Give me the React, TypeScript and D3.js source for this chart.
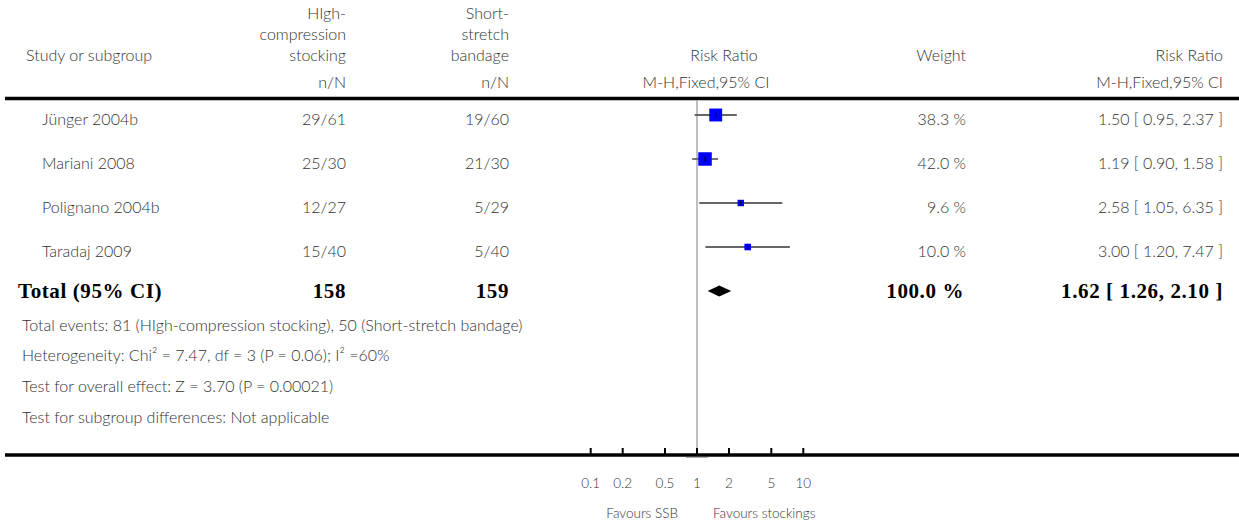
import React from "react";
import * as d3 from "d3";

const studies = ["Jünger 2004b", "Mariani 2008", "Polignano 2004b", "Taradaj 2009"];
const groupA = ["29/61", "25/30", "12/27", "15/40"];
const groupB = ["19/60", "21/30", "5/29", "5/40"];
const rr = [1.5, 1.19, 2.58, 3.0];
const lower = [0.95, 0.9, 1.05, 1.2];
const upper = [2.37, 1.58, 6.35, 7.47];
const weights = [38.3, 42.0, 9.6, 10.0];
const weightLabels = ["38.3 %", "42.0 %", "9.6 %", "10.0 %"];
const rrLabels = ["1.50 [ 0.95, 2.37 ]", "1.19 [ 0.90, 1.58 ]", "2.58 [ 1.05, 6.35 ]", "3.00 [ 1.20, 7.47 ]"];
const total = { rr: 1.62, lo: 1.26, hi: 2.1, nA: "158", nB: "159", weight: "100.0 %", label: "1.62 [ 1.26, 2.10 ]" };
const footLines = [
  "Total events: 81 (HIgh-compression stocking), 50 (Short-stretch bandage)",
  "Heterogeneity: Chi² = 7.47, df = 3 (P = 0.06); I² =60%",
  "Test for overall effect: Z = 3.70 (P = 0.00021)",
  "Test for subgroup differences: Not applicable",
];
const ticks = [0.1, 0.2, 0.5, 1, 2, 5, 10];
const tickLabels = ["0.1", "0.2", "0.5", "1", "2", "5", "10"];

const W = 1239;
const H = 525;
const sans = "'Lato', 'Open Sans', sans-serif";
const serif = "'Liberation Serif', 'DejaVu Serif', serif";
const grey = "#333";
const FS = 16;

export default function App() {
  const x = d3.scaleLog().domain([0.1, 10]).range([590.7, 803.3]);
  const rowY = d3.scaleLinear().domain([0, 1]).range([115, 159]);
  const box = d3.scaleSqrt().domain([0, 42]).range([0, 13.5]);
  const totalY = rowY(4);
  const footY = [324, 354, 385, 416];
  const axisY = 455;
  const colA = 346;
  const colB = 509;
  const colW = 966;
  const colR = 1223;
  const t = (props: any, s: string) => (
    <text fontFamily={sans} fontWeight={300} fontSize={FS} fill={grey} dominantBaseline="central" {...props}>{s}</text>
  );
  const b = (props: any, s: string) => (
    <text fontFamily={serif} fontWeight={700} fontSize={21} letterSpacing={0.6} fill="#000" dominantBaseline="central" {...props}>{s}</text>
  );
  return (
    <svg width={W} height={H} style={{ position: "absolute", left: 0, top: 0, background: "#fff" }}>
      {/* header */}
      {t({ x: 26, y: 54 }, "Study or subgroup")}
      {t({ x: colA, y: 12, textAnchor: "end" }, "HIgh-")}
      {t({ x: colA, y: 33, textAnchor: "end" }, "compression")}
      {t({ x: colA, y: 54, textAnchor: "end" }, "stocking")}
      {t({ x: colA, y: 81, textAnchor: "end" }, "n/N")}
      {t({ x: colB, y: 12, textAnchor: "end" }, "Short-")}
      {t({ x: colB, y: 33, textAnchor: "end" }, "stretch")}
      {t({ x: colB, y: 54, textAnchor: "end" }, "bandage")}
      {t({ x: colB, y: 81, textAnchor: "end" }, "n/N")}
      {t({ x: 724, y: 54, textAnchor: "middle" }, "Risk Ratio")}
      {t({ x: 706, y: 81, textAnchor: "middle" }, "M-H,Fixed,95% CI")}
      {t({ x: colW, y: 54, textAnchor: "end" }, "Weight")}
      {t({ x: colR, y: 54, textAnchor: "end" }, "Risk Ratio")}
      {t({ x: colR, y: 81, textAnchor: "end" }, "M-H,Fixed,95% CI")}
      <line x1={5} x2={W} y1={98.5} y2={98.5} stroke="#000" strokeWidth={3.5} />

      {/* null line */}
      <line x1={x(1)} x2={x(1)} y1={100} y2={axisY} stroke="#aaa" strokeWidth={1.5} />
      <line x1={686} x2={708} y1={457.5} y2={457.5} stroke="#aaa" strokeWidth={1} />

      {/* study rows */}
      {studies.map((s, i) => {
        const y = rowY(i);
        const bw = box(weights[i]);
        return (
          <g key={s}>
            {t({ x: 42, y: y + 3 }, s)}
            {t({ x: colA, y: y + 3, textAnchor: "end" }, groupA[i])}
            {t({ x: colB, y: y + 3, textAnchor: "end" }, groupB[i])}
            {t({ x: colW, y: y + 3, textAnchor: "end" }, weightLabels[i])}
            {t({ x: colR, y: y + 3, textAnchor: "end" }, rrLabels[i])}
            <line x1={x(lower[i])} x2={x(upper[i])} y1={y} y2={y} stroke="#666" strokeWidth={1.8} />
            <rect x={x(rr[i]) - bw / 2} y={y - bw / 2} width={bw} height={bw} fill="#0000ff" />
            <line x1={x(rr[i])} x2={x(rr[i])} y1={y - 2.5} y2={y + 2.5} stroke="#000" strokeWidth={1} />
          </g>
        );
      })}

      {/* total */}
      <g>
        {b({ x: 18, y: totalY }, "Total (95% CI)")}
        {b({ x: colA, y: totalY, textAnchor: "end" }, total.nA)}
        {b({ x: colB, y: totalY, textAnchor: "end" }, total.nB)}
        {b({ x: colW - 2, y: totalY, textAnchor: "end" }, total.weight)}
        {b({ x: colR, y: totalY, textAnchor: "end" }, total.label)}
        <path
          d={`M${x(total.lo)},${totalY} L${x(total.rr)},${totalY - 5.5} L${x(total.hi)},${totalY} L${x(total.rr)},${totalY + 5.5} Z`}
          fill="#000"
        />
      </g>

      {footLines.map((s, i) => (
        <g key={i}>{t({ x: 22, y: footY[i] }, s)}</g>
      ))}

      {/* axis */}
      <line x1={5} x2={W} y1={axisY} y2={axisY} stroke="#000" strokeWidth={3.5} />
      {ticks.map((v, i) => (
        <g key={v}>
          <line x1={x(v)} x2={x(v)} y1={448} y2={axisY} stroke="#000" strokeWidth={2} />
          {t({ x: x(v), y: 483, textAnchor: "middle", fontSize: 13.5 }, tickLabels[i])}
        </g>
      ))}
      {t({ x: 678, y: 513, textAnchor: "end", fontSize: 13.5 }, "Favours SSB")}
      {t({ x: 713, y: 513, fontSize: 13.5 }, "Favours stockings")}
    </svg>
  );
}
